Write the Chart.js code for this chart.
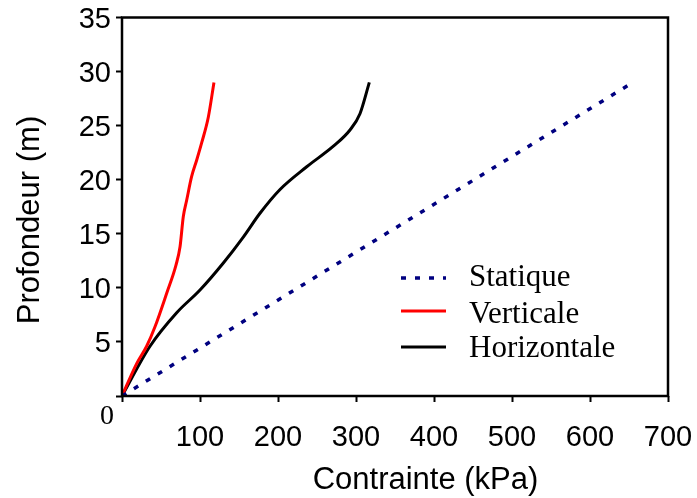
<!DOCTYPE html>
<html>
<head>
<meta charset="utf-8">
<script src="https://cdn.jsdelivr.net/npm/chart.js@4.4.0/dist/chart.umd.min.js"></script>
<style>
    html, body { margin: 0; padding: 0; background: #fff; }
    canvas { display: block; }
</style>
</head>
<body>
<canvas id="profondeurChart" width="697" height="498"></canvas>
<script>
// Values: depth (m) against stress (kPa)
const statiqueStress = [0, 327, 655];
const statiqueDepth = [0, 14.5, 29];

const verticaleStress = [0, 18.8, 31.6, 42.3, 57.3, 69.2, 74.4, 78.6, 82.9, 89.3, 95.7, 102.1, 110.7, 117.9];
const verticaleDepth = [0, 3.0, 4.6, 6.4, 9.5, 12.1, 13.8, 16.6, 18.1, 20.3, 21.8, 23.4, 25.8, 29.0];

const horizontaleStress = [0, 35.9, 70.1, 100, 129.9, 155.5, 176.9, 202.6, 236.8, 271, 292.3, 305.1, 317.1];
const horizontaleDepth = [0, 4.6, 7.7, 9.8, 12.3, 14.7, 16.9, 19.1, 21.2, 23.1, 24.6, 26.1, 29.0];

const xTickValues = [0, 100, 200, 300, 400, 500, 600, 700];
const yTickValues = [0, 5, 10, 15, 20, 25, 30, 35];

const SANS = '"Liberation Sans", Arial, sans-serif';
const SERIF = '"Liberation Serif", "Times New Roman", serif';

function toPoints(xs, ys) {
    return xs.map((x, i) => ({ x: x, y: ys[i] }));
}

// frame, serif origin "0", axis titles and the legend inside the plot
const decorPlugin = {
    id: 'decor',
    afterDraw(chart) {
        const ctx = chart.ctx;
        const a = chart.chartArea;
        ctx.save();

        ctx.strokeStyle = '#000';
        ctx.lineWidth = 2.5;
        ctx.strokeRect(a.left, a.top, a.right - a.left, a.bottom - a.top);

        ctx.fillStyle = '#000';
        ctx.textAlign = 'center';
        ctx.textBaseline = 'middle';
        ctx.font = '28px ' + SERIF;
        ctx.fillText('0', a.left - 15, a.bottom + 21);

        ctx.font = '31px ' + SANS;
        ctx.fillText('Contrainte (kPa)', 425.5, 480);
        ctx.save();
        ctx.translate(30, 220);
        ctx.rotate(-Math.PI / 2);
        ctx.fillText('Profondeur (m)', 0, 0);
        ctx.restore();

        // legend
        const lineY = [278, 311, 347];
        const textY = [286, 323, 357];
        ctx.font = '31px ' + SERIF;
        ctx.textAlign = 'left';
        ctx.textBaseline = 'alphabetic';
        chart.data.datasets.forEach((ds, i) => {
            ctx.save();
            ctx.strokeStyle = ds.borderColor;
            ctx.lineWidth = ds.borderWidth;
            ctx.setLineDash(ds.borderDash || []);
            ctx.beginPath();
            ctx.moveTo(401, lineY[i]);
            ctx.lineTo(446, lineY[i]);
            ctx.stroke();
            ctx.restore();
            ctx.fillText(ds.label, 469, textY[i]);
        });

        ctx.restore();
    }
};

new Chart(document.getElementById('profondeurChart'), {
    type: 'line',
    data: {
        datasets: [
            {
                label: 'Statique',
                data: toPoints(statiqueStress, statiqueDepth),
                borderColor: '#000080',
                borderWidth: 3.5,
                borderDash: [5, 9],
                pointRadius: 0,
                fill: false
            },
            {
                label: 'Verticale',
                data: toPoints(verticaleStress, verticaleDepth),
                borderColor: '#ff0000',
                borderWidth: 3,
                pointRadius: 0,
                cubicInterpolationMode: 'monotone',
                fill: false
            },
            {
                label: 'Horizontale',
                data: toPoints(horizontaleStress, horizontaleDepth),
                borderColor: '#000000',
                borderWidth: 3,
                pointRadius: 0,
                cubicInterpolationMode: 'monotone',
                fill: false
            }
        ]
    },
    options: {
        responsive: false,
        animation: false,
        layout: {
            padding: { left: 0, right: 29, top: 17.5, bottom: 0 }
        },
        plugins: {
            legend: { display: false },
            tooltip: { enabled: false }
        },
        scales: {
            x: {
                type: 'linear',
                min: 0,
                max: 700,
                afterBuildTicks: scale => { scale.ticks = xTickValues.map(v => ({ value: v })); },
                afterFit: scale => {
                    scale.height = 102;
                    scale.paddingLeft = 0;
                    scale.paddingRight = 0;
                },
                border: { display: false },
                grid: {
                    drawOnChartArea: false,
                    drawTicks: true,
                    tickLength: 6,
                    tickWidth: 2,
                    tickColor: '#000'
                },
                ticks: {
                    autoSkip: false,
                    maxRotation: 0,
                    padding: 19,
                    color: '#000',
                    font: { family: SANS, size: 29 },
                    callback: v => (v === 0 ? '' : v)
                }
            },
            y: {
                type: 'linear',
                min: 0,
                max: 35,
                afterBuildTicks: scale => { scale.ticks = yTickValues.map(v => ({ value: v })); },
                afterFit: scale => {
                    scale.width = 122;
                    scale.paddingTop = 0;
                    scale.paddingBottom = 0;
                },
                border: { display: false },
                grid: {
                    drawOnChartArea: false,
                    drawTicks: true,
                    tickLength: 6,
                    tickWidth: 2,
                    tickColor: '#000'
                },
                ticks: {
                    autoSkip: false,
                    padding: 5,
                    labelOffset: 2.5,
                    color: '#000',
                    font: { family: SANS, size: 29 },
                    callback: v => (v === 0 ? '' : v)
                }
            }
        }
    },
    plugins: [decorPlugin]
});
</script>
</body>
</html>
